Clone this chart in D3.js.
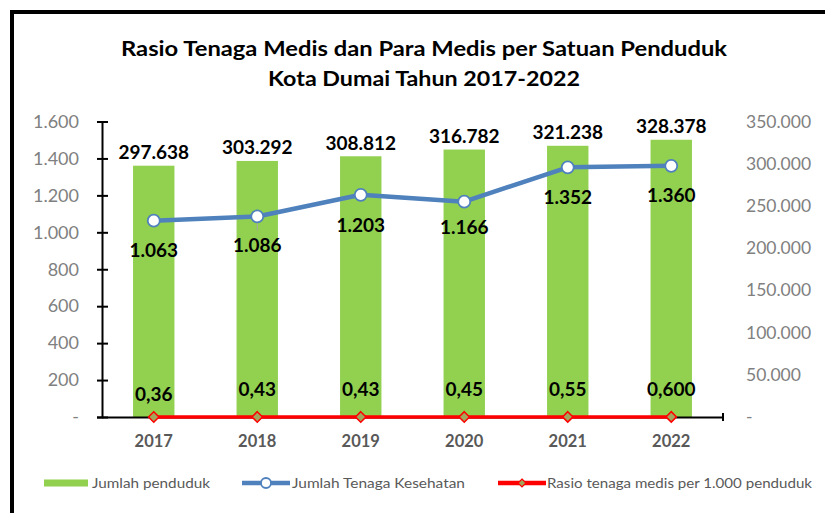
<!DOCTYPE html>
<html><head><meta charset="utf-8">
<script src="https://cdn.jsdelivr.net/npm/d3@7"></script>
<style>body{margin:0;background:#fff}svg{display:block}</style>
</head><body>
<script>
const years = ["2017","2018","2019","2020","2021","2022"];
const penduduk = [297638, 303292, 308812, 316782, 321238, 328378];
const tenaga = [1063, 1086, 1203, 1166, 1352, 1360];
const rasio = [0.36, 0.43, 0.43, 0.45, 0.55, 0.600];
const rasioLabels = ["0,36","0,43","0,43","0,45","0,55","0,600"];
const leftTicks = [0,200,400,600,800,1000,1200,1400,1600];
const rightTicks = [0,50000,100000,150000,200000,250000,300000,350000];
const titleLines = ["Rasio Tenaga Medis dan Para Medis per Satuan Penduduk","Kota Dumai Tahun 2017-2022"];
const legendLabels = ["Jumlah penduduk","Jumlah Tenaga Kesehatan","Rasio tenaga medis per 1.000 penduduk"];

const W=825,H=513;
const svg=d3.select("body").append("svg").attr("width",W).attr("height",H);
const FONT="Lato, 'Open Sans', sans-serif";
const loc=d3.formatLocale({decimal:",",thousands:".",grouping:[3],currency:["",""]});
const fmt=loc.format(",d");

// frame
svg.append("rect").attr("x",12).attr("y",12).attr("width",900).attr("height",600)
  .attr("fill","none").attr("stroke","#000").attr("stroke-width",4);

// title
const titleW=[606,312];
svg.selectAll("text.title").data(titleLines).join("text").attr("class","title")
  .attr("x",424).attr("y",(d,i)=>56+i*30).attr("text-anchor","middle")
  .attr("textLength",(d,i)=>titleW[i]).attr("lengthAdjust","spacingAndGlyphs")
  .attr("font-family",FONT).attr("font-weight","bold").attr("font-size",21.5).attr("fill","#000")
  .text(d=>d);

const x0=102,x1=723,yTop=121.5,yBot=417;
const x=d3.scaleBand().domain(years).range([x0,x1]).paddingInner(0.6).paddingOuter(0.3);
const yL=d3.scaleLinear().domain([0,1600]).range([yBot,yTop]);
const yR=d3.scaleLinear().domain([0,350000]).range([yBot,yTop]);
const cx=d=>x(d)+x.bandwidth()/2;

// bars
svg.selectAll("rect.bar").data(years).join("rect").attr("class","bar")
  .attr("x",d=>x(d)).attr("width",x.bandwidth())
  .attr("y",(d,i)=>yR(penduduk[i])).attr("height",(d,i)=>yBot-yR(penduduk[i]))
  .attr("fill","#92d050");

// left axis
const gL=svg.append("g").attr("transform",`translate(${x0},0)`)
  .call(d3.axisLeft(yL).tickValues(leftTicks).tickSize(5).tickPadding(18)
    .tickFormat(d=>d===0?"-":fmt(d)));
gL.select(".domain").attr("stroke","#000").attr("stroke-width",2);
gL.selectAll(".tick line").attr("x1",6).attr("stroke","#000").attr("stroke-width",2);
gL.selectAll(".tick text").attr("font-family",FONT).attr("font-size",18).attr("fill","#808080");

// right axis
const gR=svg.append("g").attr("transform",`translate(${x1},0)`)
  .call(d3.axisRight(yR).tickValues(rightTicks).tickSize(0).tickPadding(23)
    .tickFormat(d=>d===0?"-":fmt(d)));
gR.select(".domain").remove();
gR.selectAll(".tick text").attr("font-family",FONT).attr("font-size",17.5).attr("fill","#808080");

// x axis
const gX=svg.append("g").attr("transform",`translate(0,${yBot})`)
  .call(d3.axisBottom(x).tickSize(0).tickPadding(18));
gX.select(".domain").attr("stroke","#000").attr("stroke-width",2);
gX.selectAll(".tick text").attr("font-family",FONT).attr("font-weight","bold")
  .attr("font-size",16.5).attr("fill","#595959");
svg.append("line").attr("x1",x1).attr("x2",x1).attr("y1",yBot-4).attr("y2",yBot+4)
  .attr("stroke","#000").attr("stroke-width",2);

// bar labels
svg.selectAll("text.bl").data(years).join("text").attr("class","bl")
  .attr("x",cx).attr("y",(d,i)=>yR(penduduk[i])-6.5).attr("text-anchor","middle")
  .attr("font-family",FONT).attr("font-weight","bold").attr("font-size",19).attr("fill","#000")
  .text((d,i)=>fmt(penduduk[i]));

// blue line
const line=d3.line().x(d=>cx(d[0])).y(d=>yL(d[1]));
const tData=years.map((y,i)=>[y,tenaga[i]]);
svg.append("line").attr("x1",cx(years[1])).attr("x2",cx(years[1]))
  .attr("y1",yL(tenaga[1])).attr("y2",yL(tenaga[1])+14).attr("stroke","#a6a6a6").attr("stroke-width",1);
svg.append("path").datum(tData).attr("d",line).attr("fill","none")
  .attr("stroke","#4f81bd").attr("stroke-width",4.5).attr("stroke-linejoin","round");
svg.selectAll("circle.tp").data(tData).join("circle").attr("class","tp")
  .attr("cx",d=>cx(d[0])).attr("cy",d=>yL(d[1])).attr("r",6)
  .attr("fill","#fff").attr("stroke","#4f81bd").attr("stroke-width",1.8);
const tOff=[30,29,31,26,30,30];
svg.selectAll("text.tl").data(tData).join("text").attr("class","tl")
  .attr("x",d=>cx(d[0])).attr("y",(d,i)=>yL(d[1])+tOff[i]+6.5).attr("text-anchor","middle")
  .attr("font-family",FONT).attr("font-weight","bold").attr("font-size",19).attr("fill","#000")
  .text(d=>fmt(d[1]));

// red line
const rData=years.map((y,i)=>[y,rasio[i]]);
svg.append("path").datum(rData).attr("d",line).attr("fill","none")
  .attr("stroke","#ff0000").attr("stroke-width",3.5);
const diamond=d3.symbol().type(d3.symbolDiamond2).size(70);
svg.selectAll("path.rp").data(rData).join("path").attr("class","rp")
  .attr("transform",d=>`translate(${cx(d[0])},${yL(d[1])})`).attr("d",diamond)
  .attr("fill","#a3a65a").attr("stroke","#ff0000").attr("stroke-width",1.5);
const rOff=[-22,-27,-27,-27,-27,-27];
svg.selectAll("text.rl").data(rData).join("text").attr("class","rl")
  .attr("x",d=>cx(d[0])).attr("y",(d,i)=>yL(d[1])+rOff[i]+6.5).attr("text-anchor","middle")
  .attr("font-family",FONT).attr("font-weight","bold").attr("font-size",19).attr("fill","#000")
  .text((d,i)=>rasioLabels[i]);

// legend
const ly=483;
const lg=svg.append("g");
lg.append("rect").attr("x",44).attr("y",ly-3.5).attr("width",44).attr("height",7).attr("fill","#92d050");
lg.append("line").attr("x1",242).attr("x2",290).attr("y1",ly).attr("y2",ly).attr("stroke","#4f81bd").attr("stroke-width",4.5);
lg.append("circle").attr("cx",266).attr("cy",ly).attr("r",5).attr("fill","#fff").attr("stroke","#4f81bd").attr("stroke-width",1.8);
lg.append("line").attr("x1",498).attr("x2",546).attr("y1",ly).attr("y2",ly).attr("stroke","#ff0000").attr("stroke-width",4.5);
lg.append("path").attr("transform",`translate(522,${ly})`).attr("d",d3.symbol().type(d3.symbolDiamond2).size(40))
  .attr("fill","#a3a65a").attr("stroke","#ff0000").attr("stroke-width",1.2);
const lx=[92,292,547], lw=[118,173,265];
lg.selectAll("text").data(legendLabels).join("text")
  .attr("x",(d,i)=>lx[i]).attr("y",ly+5).attr("textLength",(d,i)=>lw[i]).attr("lengthAdjust","spacingAndGlyphs")
  .attr("font-family",FONT).attr("font-size",14).attr("fill","#595959").text(d=>d);
</script>
</body></html>
